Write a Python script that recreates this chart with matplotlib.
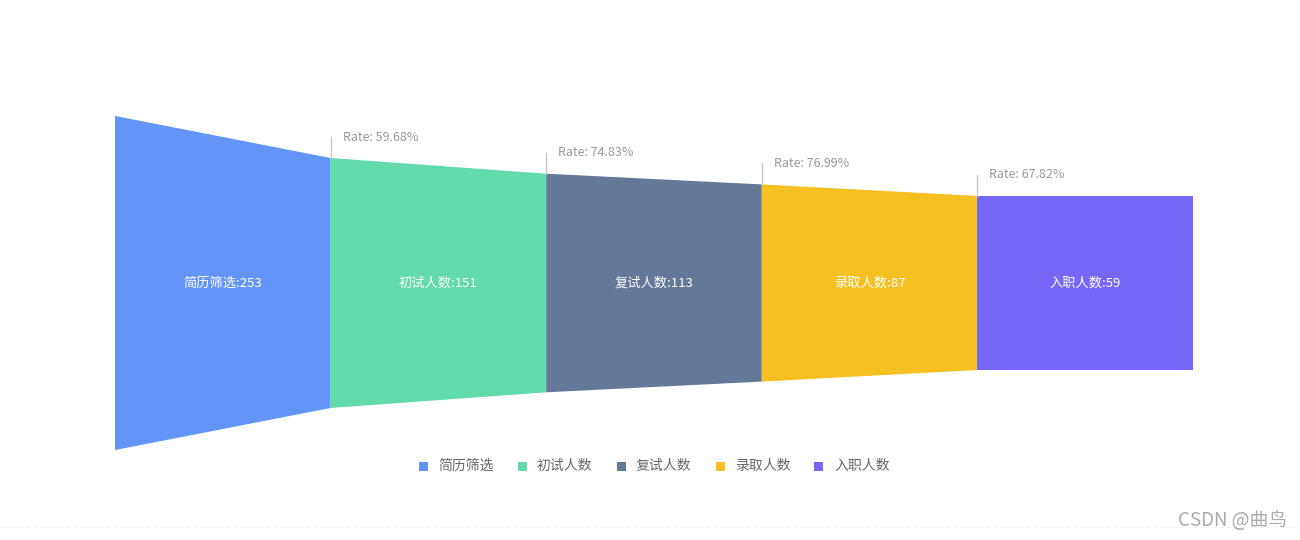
import matplotlib
matplotlib.use("Agg")
import matplotlib.pyplot as plt
from matplotlib.patches import Rectangle

plt.rcParams['font.family'] = ['Noto Sans CJK SC', 'DejaVu Sans']

# funnel data
stages = ["简历筛选", "初试人数", "复试人数", "录取人数", "入职人数"]
counts = [253, 151, 113, 87, 59]
colors = ["#6395F9", "#63DAAB", "#657897", "#F6BF22", "#7767F9"]

W, H = 1300, 540
fig = plt.figure(figsize=(W / 100, H / 100), dpi=100)
ax = fig.add_axes([0, 0, 1, 1])
ax.set_axis_off()

# layout in pixels -> data units
left_px, seg_px = 115, 215.6      # funnel start and segment width
center_px = 283                   # funnel centre line (from top)
px_per_unit = 0.825               # vertical pixels per count
base = 152                        # minimum width added to every value

ax.set_xlim(-left_px / seg_px, (W - left_px) / seg_px)
ax.set_ylim(-(H - center_px) / px_per_unit, center_px / px_per_unit)


def half(v):
    return (v + base) / 2


n = len(counts)
for i in range(n):
    a = half(counts[i])
    b = half(counts[i + 1]) if i < n - 1 else a
    ax.fill([i, i + 1, i + 1, i], [a, b, -b, -a], color=colors[i], lw=0)
    ax.text(i + 0.5, 0, f"{stages[i]}:{counts[i]}", color="white",
            ha="center", va="center", fontsize=9.5)

# conversion rates
line_len = 21 / px_per_unit
for i in range(1, n):
    rate = counts[i] / counts[i - 1] * 100
    top = half(counts[i])
    ax.plot([i, i], [top, top + line_len], color="#c8c8c8", lw=1)
    ax.text(i + 12 / seg_px, top + line_len, f"Rate: {rate:.2f}%",
            color="#999999", ha="left", va="center", fontsize=9)

# legend
leg_y = 1 - 466 / H
for i, name in enumerate(stages):
    x0 = 423 + 99 * i
    fig.patches.append(Rectangle(((x0 - 4.5) / W, leg_y - 4.5 / H), 9 / W, 9 / H,
                                 transform=fig.transFigure, color=colors[i], lw=0))
    fig.text((x0 + 15) / W, leg_y, name, color="#666666", ha="left",
             va="center", fontsize=10)

# watermark and page edge
ax.plot([0, 1], [1 - 527 / H] * 2, transform=fig.transFigure, color="#eeeeee",
        lw=0.8, ls=(0, (3, 3)))
fig.text(1287 / W, 1 - 521 / H, "CSDN @曲鸟", color="#aaaaaa", ha="right",
         va="center", fontsize=13.5)

fig.savefig("out.png", dpi=100, facecolor="white")
